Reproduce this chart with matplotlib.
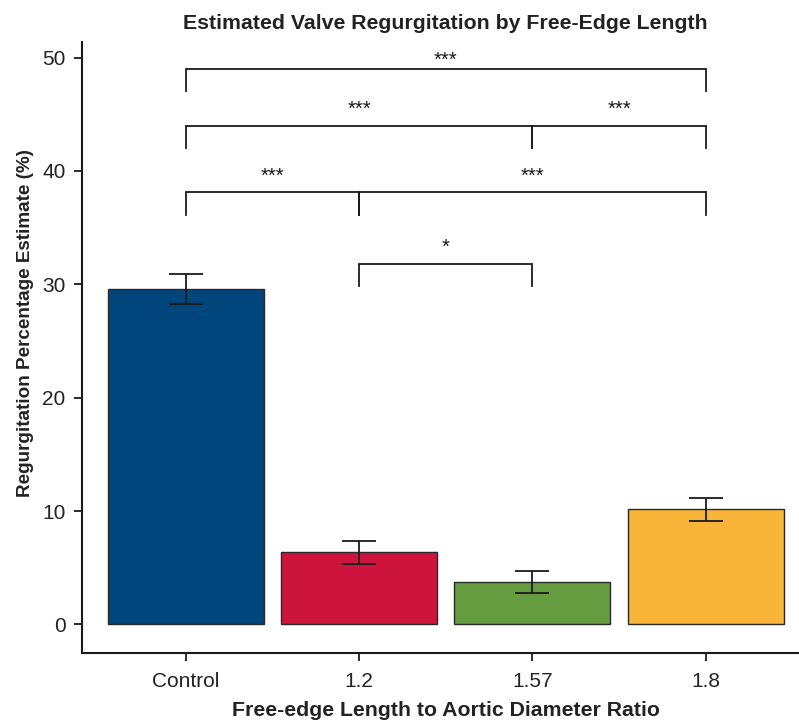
import matplotlib
matplotlib.use("Agg")
import matplotlib.pyplot as plt
import numpy as np

categories = ["Control", "1.2", "1.57", "1.8"]
means = [29.6, 6.35, 3.75, 10.15]
errors = [1.34, 1.0, 0.95, 1.02]
colors = ["#00467c", "#cc143c", "#659c3f", "#f9b43a"]

# significance brackets: (left index, right index, bracket height, label)
brackets = [
    (0, 3, 49.0, "***"),
    (0, 2, 43.95, "***"),
    (2, 3, 43.95, "***"),
    (0, 1, 38.1, "***"),
    (1, 3, 38.1, "***"),
    (1, 2, 31.8, "*"),
]

plt.rcParams['font.family'] = ['Liberation Sans', 'DejaVu Sans']
W, H = 799, 722
fig = plt.figure(figsize=(W / 100, H / 100), dpi=100)
left = 81.7 / W
bottom = 1 - 652.7 / H
top = 1 - 41.7 / H
right = 809.6 / W
ax = fig.add_axes([left, bottom, right - left, top - bottom])

x = np.arange(len(categories))
ax.bar(x, means, width=0.9, color=colors, edgecolor="#2a2a2a", linewidth=1.0, zorder=2)
ax.errorbar(x, means, yerr=errors, fmt="none", ecolor="#1a1a1a", elinewidth=1.3,
            capsize=12, capthick=1.3, zorder=3)

for i, j, h, lab in brackets:
    ax.plot([x[i], x[i], x[j], x[j]], [h - 1.95, h, h, h - 1.95], color="#1a1a1a",
            lw=1.3, solid_joinstyle="miter", zorder=3)
    ty = min(h + 0.97, 49.3)
    ax.text((x[i] + x[j]) / 2, ty, lab, ha="center", va="baseline",
            fontsize=14.5, color="#1a1a1a")

ax.set_xlim(-0.6, 3.6)
ax.set_ylim(-2.5, 51.4)
ax.set_yticks([0, 10, 20, 30, 40, 50])
ax.set_xticks(x)
ax.set_xticklabels(categories)
for s in ["top", "right"]:
    ax.spines[s].set_visible(False)
for s in ["left", "bottom"]:
    ax.spines[s].set_linewidth(1.5)
    ax.spines[s].set_color("#1a1a1a")
ax.tick_params(axis="both", labelsize=15, length=5.5, width=1.3, colors="#1a1a1a",
               labelcolor="#222222")
ax.tick_params(axis="x", pad=8.5)
ax.tick_params(axis="y", pad=6)

ax.set_xlabel("Free-edge Length to Aortic Diameter Ratio", fontsize=15.3,
              fontweight="bold", color="#222222", labelpad=7)
ax.set_ylabel("Regurgitation Percentage Estimate (%)", fontsize=13.6,
              fontweight="bold", color="#222222")
ax.yaxis.set_label_coords(-0.066, 0.54)
ax.set_title("Estimated Valve Regurgitation by Free-Edge Length", fontsize=15.3,
             fontweight="bold", color="#222222", pad=9)

fig.savefig("out.png", dpi=100)
